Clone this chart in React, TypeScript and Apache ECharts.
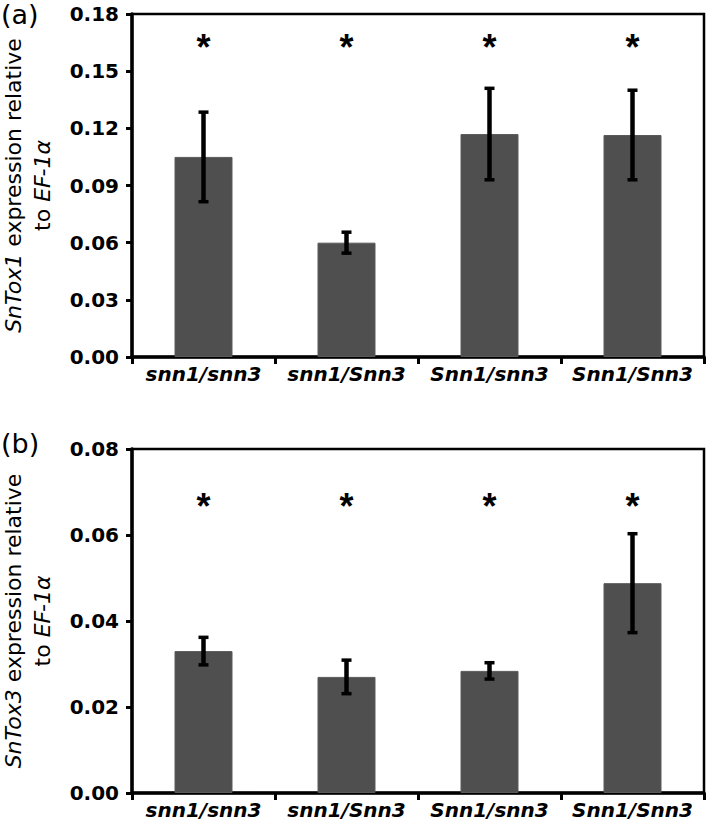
import React, { useEffect, useRef } from "react";
import * as echarts from "echarts";

const categories = ["snn1/snn3", "snn1/Snn3", "Snn1/snn3", "Snn1/Snn3"];
const tox1Means = [0.105, 0.06, 0.117, 0.1165];
const tox1Errors = [0.0235, 0.0055, 0.024, 0.0235];
const tox1Stars = [0.165, 0.165, 0.165, 0.165];
const tox3Means = [0.033, 0.027, 0.0284, 0.0488];
const tox3Errors = [0.0032, 0.0039, 0.0019, 0.0115];
const tox3Stars = [0.0677, 0.0677, 0.0677, 0.0677];

const FONT = "'DejaVu Sans', sans-serif";
const STAR_FONT = "'Liberation Sans', Arial, sans-serif";
const BAR_COLOR = "#4f4f4f";

function errorRender(params: any, api: any) {
  const v = api.value(1);
  const e = api.value(2);
  const hi = api.coord([api.value(0), v + e]);
  const lo = api.coord([api.value(0), v - e]);
  const cx = hi[0];
  const w = 5;
  return {
    type: "group",
    children: [
      { type: "line", shape: { x1: cx, y1: hi[1], x2: cx, y2: lo[1] }, style: { stroke: "#000", lineWidth: 4.5 } },
      { type: "line", shape: { x1: cx - w, y1: hi[1], x2: cx + w, y2: hi[1] }, style: { stroke: "#000", lineWidth: 3.5 } },
      { type: "line", shape: { x1: cx - w, y1: lo[1], x2: cx + w, y2: lo[1] }, style: { stroke: "#000", lineWidth: 3.5 } },
    ],
  };
}

function starRender(params: any, api: any) {
  const p = api.coord([api.value(0), api.value(1)]);
  const fs = 36;
  return {
    type: "text",
    x: p[0],
    y: p[1] + 0.13 * fs,
    style: { text: "*", fontSize: fs, fontWeight: "bold", fontFamily: STAR_FONT, fill: "#000", align: "center", verticalAlign: "middle" },
  };
}

function makeYAxis(gridIndex: number, max: number, interval: number, digits: number, geneLabel: string) {
  return {
    type: "value",
    gridIndex,
    min: 0,
    max,
    interval,
    axisLine: { show: true, lineStyle: { color: "#000", width: 3.5 } },
    axisTick: { show: true, inside: false, length: 6, lineStyle: { color: "#000", width: 3 } },
    splitLine: { show: false },
    axisLabel: {
      margin: 13,
      color: "#000",
      fontFamily: FONT,
      fontWeight: "bold",
      fontSize: 20,
      formatter: (v: number) => v.toFixed(digits),
    },
    name: `{i|${geneLabel}} expression relative\nto {i|EF-1α}`,
    nameLocation: "middle",
    nameRotate: 90,
    nameGap: 75,
    nameTextStyle: {
      color: "#000",
      fontFamily: FONT,
      fontSize: 22,
      lineHeight: 29,
      rich: {
        i: { fontStyle: "italic", fontFamily: FONT, fontSize: 22, lineHeight: 29, color: "#000" },
      },
    },
  };
}

function makeXAxis(gridIndex: number) {
  return {
    type: "category",
    gridIndex,
    data: categories,
    axisLine: { show: true, lineStyle: { color: "#000", width: 3.5 } },
    axisTick: { show: true, alignWithLabel: false, length: 7, lineStyle: { color: "#000", width: 3 } },
    axisLabel: {
      margin: 7,
      color: "#000",
      fontFamily: FONT,
      fontWeight: "bold",
      fontStyle: "italic",
      fontSize: 20,
      interval: 0,
    },
  };
}

export default function App() {
  const ref = useRef<HTMLDivElement>(null);
  useEffect(() => {
    document.body.style.margin = "0";
    const chart = echarts.init(ref.current!, null, { renderer: "svg" });
    const gridCommon = {
      left: 132,
      width: 572,
      show: true,
      borderColor: "#000",
      borderWidth: 2.5,
      backgroundColor: "transparent",
      containLabel: false,
      outerBoundsMode: "none",
    };
    const mkData = (means: number[], errs: number[]) => means.map((m, i) => [i, m, errs[i]]);
    const mkStars = (s: number[]) => s.map((v, i) => [i, v]);
    chart.setOption({
      animation: false,
      backgroundColor: "#fff",
      grid: [
        { ...gridCommon, top: 14, height: 343 },
        { ...gridCommon, top: 449, height: 344 },
      ],
      xAxis: [makeXAxis(0), makeXAxis(1)],
      yAxis: [makeYAxis(0, 0.18, 0.03, 2, "SnTox1"), makeYAxis(1, 0.08, 0.02, 2, "SnTox3")],
      graphic: [
        { type: "text", left: 1, top: 1, style: { text: "(a)", fontSize: 27, fontFamily: FONT, fill: "#000" } },
        { type: "text", left: 1, top: 430, style: { text: "(b)", fontSize: 27, fontFamily: FONT, fill: "#000" } },
      ],
      series: [
        { type: "bar", xAxisIndex: 0, yAxisIndex: 0, data: tox1Means, barWidth: 58, itemStyle: { color: BAR_COLOR, borderColor: "#5a5a5a", borderWidth: 1 } },
        { type: "custom", xAxisIndex: 0, yAxisIndex: 0, data: mkData(tox1Means, tox1Errors), renderItem: errorRender, z: 5 },
        { type: "custom", xAxisIndex: 0, yAxisIndex: 0, data: mkStars(tox1Stars), renderItem: starRender, z: 5 },
        { type: "bar", xAxisIndex: 1, yAxisIndex: 1, data: tox3Means, barWidth: 58, itemStyle: { color: BAR_COLOR, borderColor: "#5a5a5a", borderWidth: 1 } },
        { type: "custom", xAxisIndex: 1, yAxisIndex: 1, data: mkData(tox3Means, tox3Errors), renderItem: errorRender, z: 5 },
        { type: "custom", xAxisIndex: 1, yAxisIndex: 1, data: mkStars(tox3Stars), renderItem: starRender, z: 5 },
      ],
    });
    return () => chart.dispose();
  }, []);
  return <div ref={ref} style={{ width: 709, height: 827 }} />;
}
